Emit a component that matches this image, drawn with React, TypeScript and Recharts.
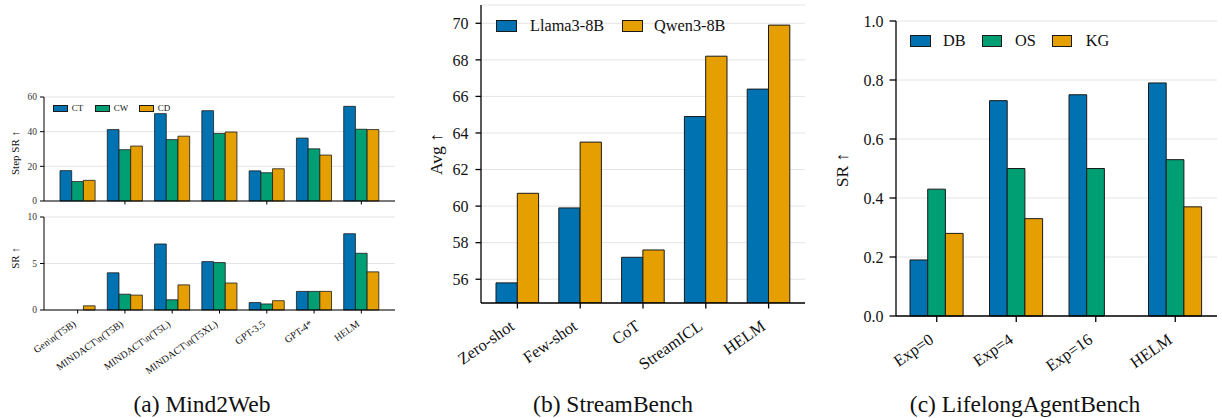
import React from 'react';
import { Bar, BarChart, CartesianGrid, XAxis, YAxis } from 'recharts';

const SERIF = '"Liberation Serif", "Times New Roman", "DejaVu Serif", serif';
const BLUE = '#0072b2';
const GREEN = '#009e73';
const ORANGE = '#e69f00';
const EDGE = '#1a1a1a';
const GRID = '#e4e4e4';

// (a) Mind2Web
const mindCats = ['Gen\\n(T5B)', 'MINDACT\\n(T5B)', 'MINDACT\\n(T5L)', 'MINDACT\\n(T5XL)', 'GPT-3.5', 'GPT-4*', 'HELM'];
const stepCT = [17.5, 41.2, 50.4, 52.1, 17.4, 36.3, 54.6];
const stepCW = [11.2, 29.6, 35.4, 39.0, 16.3, 30.1, 41.4];
const stepCD = [11.9, 31.7, 37.4, 39.8, 18.6, 26.5, 41.2];
const srCT = [0, 4.0, 7.1, 5.2, 0.8, 2.0, 8.2];
const srCW = [0, 1.7, 1.1, 5.1, 0.65, 2.0, 6.1];
const srCD = [0.45, 1.6, 2.7, 2.9, 1.0, 2.0, 4.1];
const stepTicks = [0, 20, 40, 60];
const srTicks = [0, 5, 10];

// (b) StreamBench
const streamCats = ['Zero-shot', 'Few-shot', 'CoT', 'StreamICL', 'HELM'];
const llama = [55.8, 59.9, 57.2, 64.9, 66.4];
const qwen = [60.7, 63.5, 57.6, 68.2, 69.9];
const avgTicks = [56, 58, 60, 62, 64, 66, 68, 70];

// (c) LifelongAgentBench
const lifeCats = ['Exp=0', 'Exp=4', 'Exp=16', 'HELM'];
const db = [0.19, 0.73, 0.75, 0.79];
const os = [0.43, 0.5, 0.5, 0.53];
const kg = [0.28, 0.33, null, 0.37];
const lifeTicks = [0, 0.2, 0.4, 0.6, 0.8, 1.0];

const mindTop = mindCats.map((cat, i) => ({ cat, CT: stepCT[i], CW: stepCW[i], CD: stepCD[i] }));
const mindBottom = mindCats.map((cat, i) => ({ cat, CT: srCT[i], CW: srCW[i], CD: srCD[i] }));
const streamData = streamCats.map((cat, i) => ({ cat, llama: llama[i], qwen: qwen[i] }));
const lifeData = lifeCats.map((cat, i) => ({ cat, DB: db[i], OS: os[i], KG: kg[i] }));

const NoTick = () => <g />;

function rotTick(fontSize: number, dx: number, dy: number) {
  return ({ x, y, payload }: any) => (
    <g transform={`translate(${x + dx},${y + dy})`}>
      <text
        x={0}
        y={0}
        textAnchor="end"
        transform="rotate(-35)"
        fontSize={fontSize}
        fontFamily={SERIF}
        fill="#111"
      >
        {payload.value}
      </text>
    </g>
  );
}

type LegendItem = { label: string; color: string; boxX: number; textX: number };

function Legend({ items, y, boxW, boxH, fontSize }: { items: LegendItem[]; y: number; boxW: number; boxH: number; fontSize: number }) {
  return (
    <>
      {items.map((it) => (
        <React.Fragment key={it.label}>
          <div
            style={{
              position: 'absolute',
              left: it.boxX,
              top: y - boxH / 2,
              width: boxW,
              height: boxH,
              background: it.color,
              boxSizing: 'border-box',
              border: `0.8px solid ${EDGE}`,
            }}
          />
          <div
            style={{
              position: 'absolute',
              left: it.textX,
              top: y - fontSize * 0.6,
              fontSize,
              lineHeight: `${fontSize * 1.2}px`,
              whiteSpace: 'nowrap',
              color: '#111',
            }}
          >
            {it.label}
          </div>
        </React.Fragment>
      ))}
    </>
  );
}

function VLabel({ text, x, y, fontSize }: { text: string; x: number; y: number; fontSize: number }) {
  return (
    <div
      style={{
        position: 'absolute',
        left: x,
        top: y,
        fontSize,
        whiteSpace: 'nowrap',
        color: '#111',
        transform: 'translate(-50%, -50%) rotate(-90deg)',
      }}
    >
      {text}
    </div>
  );
}

function Caption({ text, x, y }: { text: string; x: number; y: number }) {
  return (
    <div
      style={{
        position: 'absolute',
        left: x,
        top: y,
        fontSize: 23.5,
        whiteSpace: 'nowrap',
        color: '#111',
        transform: 'translate(-50%, -50%)',
      }}
    >
      {text}
    </div>
  );
}

const smallTick = { fontSize: 9.5, fontFamily: SERIF, fill: '#333' };
const bigTick = { fontSize: 16, fontFamily: SERIF, fill: '#111' };

export default function App() {
  return (
    <div
      style={{
        position: 'absolute',
        left: 0,
        top: 0,
        width: 1222,
        height: 418,
        overflow: 'hidden',
        background: '#fff',
        fontFamily: SERIF,
      }}
    >
      {/* (a) top: Step SR */}
      <div style={{ position: 'absolute', left: 14, top: 92 }}>
        <BarChart width={386} height={115} data={mindTop} margin={{ top: 5, right: 5, left: 0, bottom: 0 }} barSize={11.7} barGap={0}>
          <CartesianGrid vertical={false} stroke={GRID} />
          <XAxis dataKey="cat" height={6} padding={{ left: 10, right: 10 }} tick={NoTick} tickSize={3.5} stroke="#000" />
          <YAxis width={30} domain={[0, 60]} ticks={stepTicks} tick={smallTick} tickSize={4} tickMargin={3} stroke="#000" />
          <Bar dataKey="CT" fill={BLUE} stroke={EDGE} strokeWidth={0.8} isAnimationActive={false} />
          <Bar dataKey="CW" fill={GREEN} stroke={EDGE} strokeWidth={0.8} isAnimationActive={false} />
          <Bar dataKey="CD" fill={ORANGE} stroke={EDGE} strokeWidth={0.8} isAnimationActive={false} />
        </BarChart>
      </div>

      {/* (a) bottom: SR */}
      <div style={{ position: 'absolute', left: 14, top: 212 }}>
        <BarChart width={386} height={178} data={mindBottom} margin={{ top: 5, right: 5, left: 0, bottom: 0 }} barSize={11.7} barGap={0}>
          <CartesianGrid vertical={false} stroke={GRID} />
          <XAxis dataKey="cat" height={80} padding={{ left: 10, right: 10 }} tick={rotTick(10, -1, 10)} tickSize={3.5} stroke="#000" interval={0} />
          <YAxis width={30} domain={[0, 10]} ticks={srTicks} tick={smallTick} tickSize={4} tickMargin={3} stroke="#000" />
          <Bar dataKey="CT" fill={BLUE} stroke={EDGE} strokeWidth={0.8} isAnimationActive={false} />
          <Bar dataKey="CW" fill={GREEN} stroke={EDGE} strokeWidth={0.8} isAnimationActive={false} />
          <Bar dataKey="CD" fill={ORANGE} stroke={EDGE} strokeWidth={0.8} isAnimationActive={false} />
        </BarChart>
      </div>

      {/* (b) StreamBench */}
      <div style={{ position: 'absolute', left: 426, top: -5 }}>
        <BarChart width={389} height={378} data={streamData} margin={{ top: 10, right: 10, left: 0, bottom: 0 }} barSize={21.3} barGap={0}>
          <CartesianGrid vertical={false} stroke={GRID} />
          <XAxis dataKey="cat" height={70} padding={{ left: 5, right: 5 }} tick={rotTick(16.5, -2, 18)} tickSize={5.5} stroke="#000" strokeWidth={1.3} interval={0} />
          <YAxis width={55} type="number" domain={[54.7, 71]} allowDataOverflow ticks={avgTicks} tick={bigTick} tickSize={5.5} tickMargin={7} stroke="#000" strokeWidth={1.3} />
          <Bar dataKey="llama" fill={BLUE} stroke={EDGE} strokeWidth={1} isAnimationActive={false} />
          <Bar dataKey="qwen" fill={ORANGE} stroke={EDGE} strokeWidth={1} isAnimationActive={false} />
        </BarChart>
      </div>

      {/* (c) LifelongAgentBench */}
      <div style={{ position: 'absolute', left: 836, top: 10.7 }}>
        <BarChart width={385} height={375} data={lifeData} margin={{ top: 10, right: 4, left: 0, bottom: 0 }} barSize={17.7} barGap={0}>
          <CartesianGrid vertical={false} stroke={GRID} />
          <XAxis dataKey="cat" height={70} padding={{ left: 1, right: 2 }} tick={rotTick(16.5, -2, 18)} tickSize={6} stroke="#000" strokeWidth={1.3} interval={0} />
          <YAxis width={60} type="number" domain={[0, 1]} ticks={lifeTicks} tick={bigTick} tickFormatter={(v: number) => v.toFixed(1)} tickSize={6.5} tickMargin={6} stroke="#000" strokeWidth={1.3} />
          <Bar dataKey="DB" fill={BLUE} stroke={EDGE} strokeWidth={1} isAnimationActive={false} />
          <Bar dataKey="OS" fill={GREEN} stroke={EDGE} strokeWidth={1} isAnimationActive={false} />
          <Bar dataKey="KG" fill={ORANGE} stroke={EDGE} strokeWidth={1} isAnimationActive={false} />
        </BarChart>
      </div>

      <Legend
        y={108.7}
        boxW={15}
        boxH={7}
        fontSize={9}
        items={[
          { label: 'CT', color: BLUE, boxX: 53.3, textX: 71.7 },
          { label: 'CW', color: GREEN, boxX: 95, textX: 113.7 },
          { label: 'CD', color: ORANGE, boxX: 139.3, textX: 157.7 },
        ]}
      />
      <Legend
        y={26}
        boxW={21}
        boxH={12}
        fontSize={16.3}
        items={[
          { label: 'Llama3-8B', color: BLUE, boxX: 496, textX: 530 },
          { label: 'Qwen3-8B', color: ORANGE, boxX: 621.7, textX: 654 },
        ]}
      />
      <Legend
        y={41.2}
        boxW={20.7}
        boxH={12}
        fontSize={16.3}
        items={[
          { label: 'DB', color: BLUE, boxX: 910, textX: 943 },
          { label: 'OS', color: GREEN, boxX: 981.7, textX: 1015 },
          { label: 'KG', color: ORANGE, boxX: 1051.7, textX: 1085.7 },
        ]}
      />

      <VLabel text="Step SR ↑" x={15} y={153} fontSize={11} />
      <VLabel text="SR ↑" x={15} y={258} fontSize={11} />
      <VLabel text="Avg ↑" x={436} y={154} fontSize={17.5} />
      <VLabel text="SR ↑" x={842} y={170} fontSize={17.5} />

      <Caption text="(a) Mind2Web" x={202} y={404} />
      <Caption text="(b) StreamBench" x={613} y={404} />
      <Caption text="(c) LifelongAgentBench" x={1025} y={404} />
    </div>
  );
}
